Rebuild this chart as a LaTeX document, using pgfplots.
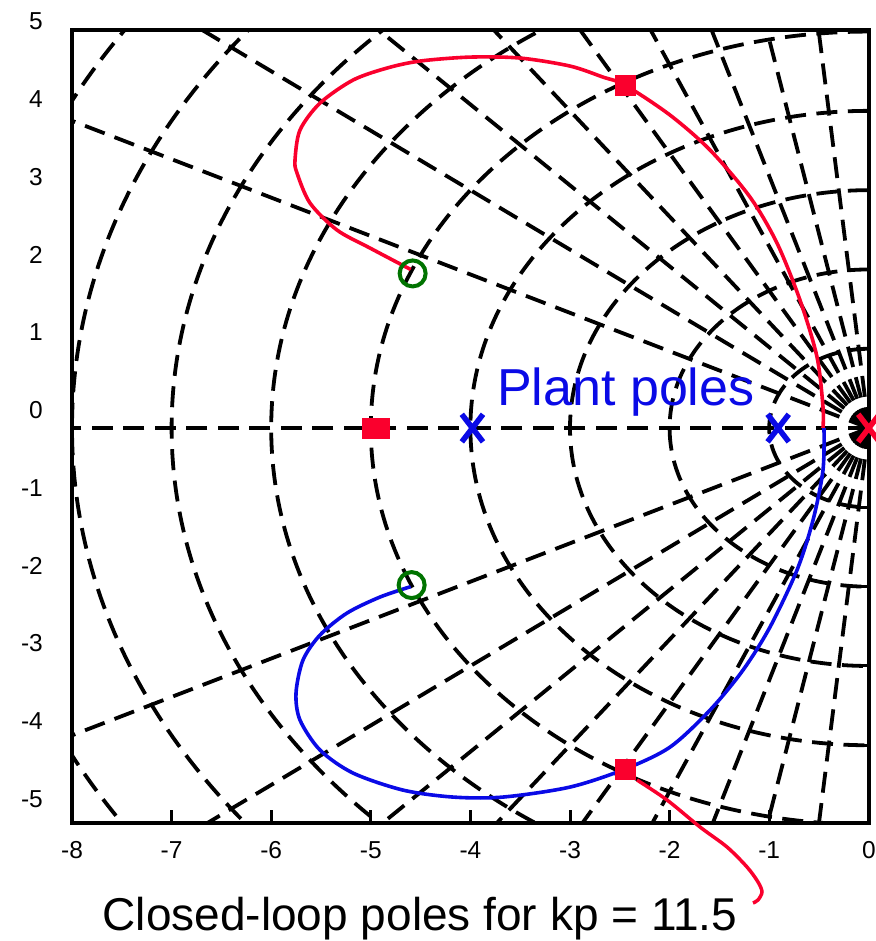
\documentclass[border=0pt]{standalone}
\usepackage{pgfplots}
\pgfplotsset{compat=1.18}
\usepackage{fontspec}
\setmainfont{Liberation Sans}
\definecolor{rlred}{RGB}{250,0,45}
\definecolor{rlblue}{RGB}{10,10,230}
\definecolor{rlgreen}{RGB}{0,115,0}
\tikzset{gridline/.style={black, line width=3.8pt, dash pattern=on 21pt off 10.5pt}}
\begin{document}
\begin{tikzpicture}
\begin{axis}[
  at={(0pt,0pt)}, anchor=south west,
  x=99.6pt, y=79.3pt,
  xmin=-8, xmax=0, ymin=-4.98, ymax=5.02,
  axis on top,
  axis line style={line width=3.5pt},
  xtick={-8,-7,-6,-5,-4,-3,-2,-1,0},
  xticklabels={-8,-7,-6,-5,-4,-3,-2,-1,0},
  minor xtick={-7,-6,-5,-4,-3,-2,-1},
  xtick pos=bottom,
  ytick={-4.878,-3.897,-2.916,-1.935,-0.954,0.027,1.008,1.989,2.970,3.951,4.932},
  yticklabels={-5,-4,-3,-2,-1,0,1,2,3,4,5},
  minor ytick={-4,-3,-2,-1,0,1,2,3,4},
  ytick pos=right, yticklabel pos=left,
  major tick length=0pt,
  minor tick length=13pt,
  minor tick style={line width=3pt, black},
  tick align=inside,
  tick label style={font=\fontsize{24.5}{28}\selectfont, inner sep=0pt},
  xticklabel style={anchor=north, yshift=-18pt},
  yticklabel style={anchor=east, xshift=-29pt, yshift=15.86pt},
]
% damping-ratio rays
\addplot[gridline, mark=none, forget plot] coordinates {(0,0) (-12,0)};
\addplot[gridline, mark=none, forget plot] coordinates {(0,0) (-1.2,11.94)};
\addplot[gridline, mark=none, forget plot] coordinates {(0,0) (-2.4,11.758)};
\addplot[gridline, mark=none, forget plot] coordinates {(0,0) (-3.6,11.447)};
\addplot[gridline, mark=none, forget plot] coordinates {(0,0) (-4.8,10.998)};
\addplot[gridline, mark=none, forget plot] coordinates {(0,0) (-6.0,10.392)};
\addplot[gridline, mark=none, forget plot] coordinates {(0,0) (-7.2,9.6)};
\addplot[gridline, mark=none, forget plot] coordinates {(0,0) (-8.4,8.570)};
\addplot[gridline, mark=none, forget plot] coordinates {(0,0) (-9.6,7.2)};
\addplot[gridline, mark=none, forget plot] coordinates {(0,0) (-10.8,5.231)};
\addplot[gridline, mark=none, forget plot] coordinates {(0,0) (-1.2,-11.94)};
\addplot[gridline, mark=none, forget plot] coordinates {(0,0) (-2.4,-11.758)};
\addplot[gridline, mark=none, forget plot] coordinates {(0,0) (-3.6,-11.447)};
\addplot[gridline, mark=none, forget plot] coordinates {(0,0) (-4.8,-10.998)};
\addplot[gridline, mark=none, forget plot] coordinates {(0,0) (-6.0,-10.392)};
\addplot[gridline, mark=none, forget plot] coordinates {(0,0) (-7.2,-9.6)};
\addplot[gridline, mark=none, forget plot] coordinates {(0,0) (-8.4,-8.570)};
\addplot[gridline, mark=none, forget plot] coordinates {(0,0) (-9.6,-7.2)};
\addplot[gridline, mark=none, forget plot] coordinates {(0,0) (-10.8,-5.231)};
% natural-frequency circles
\draw[gridline] (axis cs:0,1) arc[start angle=90,end angle=270,x radius=99.6pt,y radius=79.3pt];
\draw[gridline] (axis cs:0,2) arc[start angle=90,end angle=270,x radius=199.2pt,y radius=158.6pt];
\draw[gridline] (axis cs:0,3) arc[start angle=90,end angle=270,x radius=298.8pt,y radius=237.9pt];
\draw[gridline] (axis cs:0,4) arc[start angle=90,end angle=270,x radius=398.4pt,y radius=317.2pt];
\draw[gridline] (axis cs:0,5) arc[start angle=90,end angle=270,x radius=498pt,y radius=396.5pt];
\draw[gridline] (axis cs:0,6) arc[start angle=90,end angle=270,x radius=597.6pt,y radius=475.8pt];
\draw[gridline] (axis cs:0,7) arc[start angle=90,end angle=270,x radius=697.2pt,y radius=555.1pt];
\draw[gridline] (axis cs:0,8) arc[start angle=90,end angle=270,x radius=796.8pt,y radius=634.4pt];
\draw[gridline] (axis cs:0,9) arc[start angle=90,end angle=270,x radius=896.4pt,y radius=713.7pt];
% root locus branches
\addplot[rlred, line width=3.6pt, smooth, mark=none] coordinates {
(-4.60,2.00) (-5.008,2.27) (-5.339,2.497) (-5.61,2.837) (-5.741,3.216) (-5.761,3.38)
(-5.711,3.758) (-5.51,4.098) (-5.179,4.388) (-4.837,4.54) (-4.506,4.628) (-4.004,4.678)
(-3.502,4.666) (-3.0,4.565) (-2.669,4.426) (-2.448,4.325) (-1.996,3.947) (-1.594,3.506)
(-1.193,2.913) (-0.922,2.333) (-0.691,1.614) (-0.52,0.895) (-0.46,0.265) (-0.46,0)};
\addplot[rlblue, line width=3.6pt, smooth, mark=none] coordinates {
(-4.60,-2.0) (-4.908,-2.131) (-5.239,-2.333) (-5.51,-2.61) (-5.681,-2.926) (-5.751,-3.342)
(-5.711,-3.682) (-5.51,-4.06) (-5.179,-4.35) (-4.677,-4.565) (-4.175,-4.653) (-3.673,-4.653)
(-3.0,-4.527) (-2.448,-4.3) (-1.996,-4.023) (-1.594,-3.556) (-1.263,-3.052) (-0.992,-2.509)
(-0.721,-1.791) (-0.56,-1.16) (-0.46,-0.53) (-0.45,0)};
% closed-loop poles
\addplot[only marks, mark=square*, mark size=10pt, rlred, mark options={draw=rlred, fill=rlred, line width=0.5pt}]
  coordinates {(-4.99,0) (-4.92,0) (-2.448,4.325) (-2.448,-4.30)};
% zeros
\addplot[only marks, mark=o, mark size=13pt, rlgreen, mark options={line width=4pt}]
  coordinates {(-4.58,1.95) (-4.59,-1.98)};
% plant poles
\addplot[only marks, mark=x, mark size=15pt, rlblue, mark options={line width=5.5pt, yscale=1.3}]
  coordinates {(-3.98,0) (-0.91,0)};
\addplot[only marks, mark=x, mark size=15pt, rlred, mark options={line width=5.5pt, yscale=1.3}]
  coordinates {(0,0)};
\node[anchor=base west, inner sep=0pt, text=rlblue, font=\fontsize{52}{60}\selectfont]
  at (axis cs:-3.733,0.29) {Plant poles};
\end{axis}
\draw[rlred, line width=3.5pt] plot[smooth] coordinates {(565pt,43pt) (595pt,23pt) (628pt,-4pt) (655pt,-24pt) (675pt,-44pt) (686pt,-59pt) (690pt,-69pt) (686pt,-77pt) (681pt,-80pt)};
\node[anchor=base, inner sep=0pt, font=\fontsize{46}{54}\selectfont] at (348pt,-107pt) {Closed-loop poles for kp = 11.5};
\pgfresetboundingbox
\path[use as bounding box] (-72pt,-118pt) rectangle (803pt,823pt);
\end{tikzpicture}
\end{document}
